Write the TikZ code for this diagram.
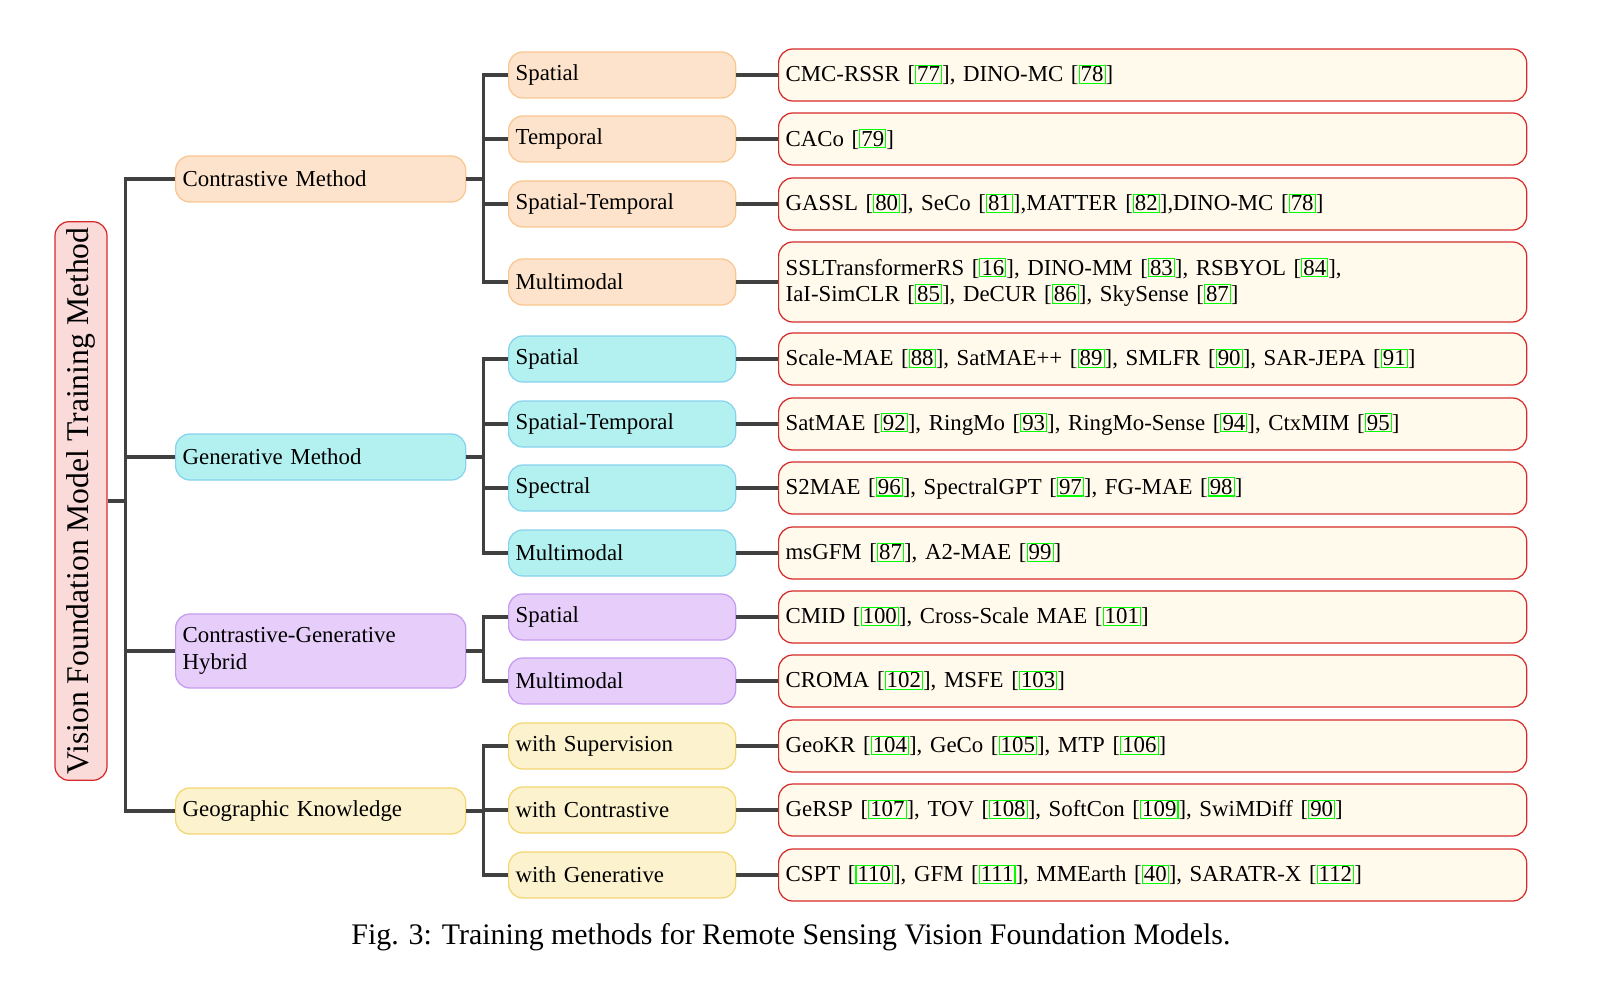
\documentclass[tikz,border=0pt]{standalone}
\usepackage{fontspec}
\setmainfont{Liberation Serif}
\usepackage{xcolor}
\usetikzlibrary{positioning}
\definecolor{orF}{HTML}{FDE3CB}\definecolor{orD}{HTML}{F9C690}
\definecolor{cyF}{HTML}{B3F0F0}\definecolor{cyD}{HTML}{86D3EE}
\definecolor{puF}{HTML}{E6CDFA}\definecolor{puD}{HTML}{C59BF0}
\definecolor{yeF}{HTML}{FCF2CE}\definecolor{yeD}{HTML}{F3D66F}
\definecolor{lfF}{HTML}{FFFAEB}\definecolor{lfD}{HTML}{D62A2A}
\definecolor{rtF}{HTML}{FBDADA}
\definecolor{ln}{HTML}{404040}
\newcommand\rf[1]{[{\setlength\fboxsep{0.6pt}\setlength\fboxrule{0.6pt}\color{green}\fbox{\color{black}#1}}]}
\tikzset{
  box/.style={draw,rounded corners=8pt,line width=0.7pt,anchor=west,align=left,inner sep=4pt,minimum height=46*0.02cm},
  lvA/.style={box,text width=276*0.02cm},
  lvB/.style={box,text width=213*0.02cm},
  leaf/.style={box,fill=lfF,draw=lfD,text width=734*0.02cm,minimum height=52*0.02cm},
  orb/.style={fill=orF,draw=orD},
  cyb/.style={fill=cyF,draw=cyD},
  pub/.style={fill=puF,draw=puD},
  yeb/.style={fill=yeF,draw=yeD},
  link/.style={draw=ln,line width=1.8pt}
}
\begin{document}
\begin{tikzpicture}[x=0.02cm,y=-0.02cm,font=\fontsize{13}{15}\selectfont]
\useasboundingbox (0,0) rectangle (1606,1000);
% root
\node(root)[draw=lfD,fill=rtF,rounded corners=8pt,line width=0.7pt,rotate=90,minimum width=542*0.02cm,minimum height=52*0.02cm,font=\fontsize{18}{20}\selectfont] at (81,501) {Vision Foundation Model Training Method};
% first level
\node(con)[lvA,orb] at (175,179) {Contrastive Method};
\node(gen)[lvA,cyb] at (175,457) {Generative Method};
\node(hyb)[lvA,pub,minimum height=74*0.02cm] at (175,651) {Contrastive-Generative\\Hybrid};
\node(geo)[lvA,yeb] at (175,811) {Geographic Knowledge};
% second level
\node(conS)[lvB,orb] at (508,75) {Spatial};
\node(conT)[lvB,orb] at (508,139) {Temporal};
\node(conST)[lvB,orb] at (508,204) {Spatial-Temporal};
\node(conM)[lvB,orb] at (508,282) {Multimodal};
\node(genS)[lvB,cyb] at (508,359) {Spatial};
\node(genST)[lvB,cyb] at (508,424) {Spatial-Temporal};
\node(genSp)[lvB,cyb] at (508,488) {Spectral};
\node(genM)[lvB,cyb] at (508,553) {Multimodal};
\node(hybS)[lvB,pub] at (508,617) {Spatial};
\node(hybM)[lvB,pub] at (508,681) {Multimodal};
\node(geoS)[lvB,yeb] at (508,746) {with Supervision};
\node(geoC)[lvB,yeb] at (508,810) {with Contrastive};
\node(geoG)[lvB,yeb] at (508,875) {with Generative};
% leaves
\node(conSl)[leaf] at (778,75) {CMC-RSSR \rf{77}, DINO-MC \rf{78}};
\node(conTl)[leaf] at (778,139) {CACo \rf{79}};
\node(conSTl)[leaf] at (778,204) {GASSL \rf{80}, SeCo \rf{81},MATTER \rf{82},DINO-MC \rf{78}};
\node(conMl)[leaf,minimum height=80*0.02cm] at (778,282) {SSLTransformerRS \rf{16}, DINO-MM \rf{83}, RSBYOL \rf{84},\\IaI-SimCLR \rf{85}, DeCUR \rf{86}, SkySense \rf{87}};
\node(genSl)[leaf] at (778,359) {Scale-MAE \rf{88}, SatMAE++ \rf{89}, SMLFR \rf{90}, SAR-JEPA \rf{91}};
\node(genSTl)[leaf] at (778,424) {SatMAE \rf{92}, RingMo \rf{93}, RingMo-Sense \rf{94}, CtxMIM \rf{95}};
\node(genSpl)[leaf] at (778,488) {S2MAE \rf{96}, SpectralGPT \rf{97}, FG-MAE \rf{98}};
\node(genMl)[leaf] at (778,553) {msGFM \rf{87}, A2-MAE \rf{99}};
\node(hybSl)[leaf] at (778,617) {CMID \rf{100}, Cross-Scale MAE \rf{101}};
\node(hybMl)[leaf] at (778,681) {CROMA \rf{102}, MSFE \rf{103}};
\node(geoSl)[leaf] at (778,746) {GeoKR \rf{104}, GeCo \rf{105}, MTP \rf{106}};
\node(geoCl)[leaf] at (778,810) {GeRSP \rf{107}, TOV \rf{108}, SoftCon \rf{109}, SwiMDiff \rf{90}};
\node(geoGl)[leaf] at (778,875) {CSPT \rf{110}, GFM \rf{111}, MMEarth \rf{40}, SARATR-X \rf{112}};
% connectors
\draw[link] (root.south) -- ++(18,0) coordinate(rt);
\foreach \a in {con,gen,hyb,geo} \draw[link] (rt) |- (\a.west);
\draw[link] (con.east) -- ++(17,0) coordinate(ct);
\foreach \b in {conS,conT,conST,conM} \draw[link] (ct) |- (\b.west);
\draw[link] (gen.east) -- ++(17,0) coordinate(gt);
\foreach \b in {genS,genST,genSp,genM} \draw[link] (gt) |- (\b.west);
\draw[link] (hyb.east) -- ++(17,0) coordinate(ht);
\foreach \b in {hybS,hybM} \draw[link] (ht) |- (\b.west);
\draw[link] (geo.east) -- ++(17,0) coordinate(et);
\foreach \b in {geoS,geoC,geoG} \draw[link] (et) |- (\b.west);
\foreach \b in {conS,conT,conST,conM,genS,genST,genSp,genM,hybS,hybM,geoS,geoC,geoG}
  \draw[link] (\b.east) -- (\b l.west);
% caption
\node(cap)[font=\fontsize{17}{19}\selectfont] at (791,937) {Fig. 3: Training methods for Remote Sensing Vision Foundation Models.};
\end{tikzpicture}
\end{document}
